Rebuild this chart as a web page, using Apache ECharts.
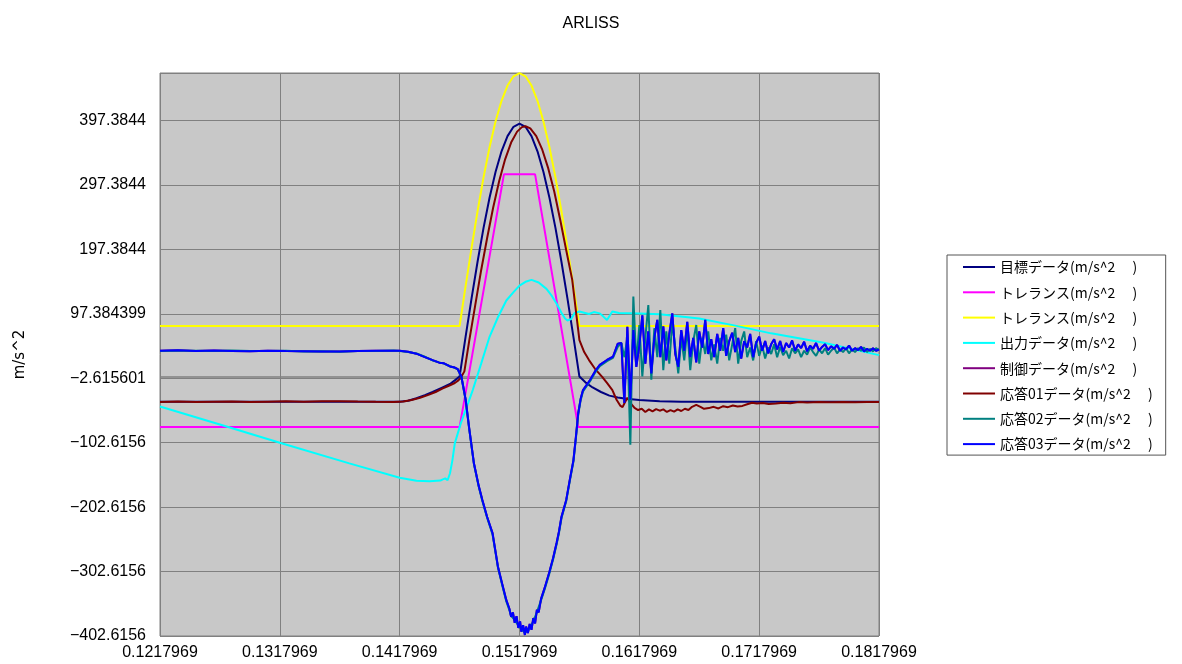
<!DOCTYPE html>
<html>
<head>
<meta charset="utf-8">
<title>ARLISS</title>
<script src="https://cdn.jsdelivr.net/npm/echarts@6/dist/echarts.min.js"></script>
<style>
  html, body { margin: 0; padding: 0; background: #ffffff; }
  #chart { width: 1182px; height: 664px; }
</style>
</head>
<body>
<div id="chart"></div>
<script>
// Time axis is elapsed milliseconds from 0.1217969 s; tick labels carry the absolute seconds.
const xTickLabels = ['0.1217969', '0.1317969', '0.1417969', '0.1517969', '0.1617969', '0.1717969', '0.1817969'];
const yTickLabels = ['−402.6156', '−302.6156', '−202.6156', '−102.6156', '−2.615601', '97.384399', '197.3844', '297.3844', '397.3844'];

const seriesNames = [
  '目標データ(m/s^2\u3000 )',
  'トレランス(m/s^2\u3000 )',
  'トレランス(m/s^2\u3000 ) ',
  '出力データ(m/s^2\u3000 )',
  '制御データ(m/s^2\u3000 )',
  '応答01データ(m/s^2\u3000 )',
  '応答02データ(m/s^2\u3000 )',
  '応答03データ(m/s^2\u3000 )'
];

// [ms, m/s^2]
const target = [
  [0, -39.2], [20, -39.2], [20.7, -37.5], [21.4, -33.6], [22.1, -29], [22.75, -24], [23.5, -17.5], [24.2, -11.6], [24.6, -6], [25, 0],
  [25.5, 61.4], [26, 121.2], [26.5, 178.1], [27, 230.6], [27.5, 277.4], [28, 317.4], [28.5, 349.5], [29, 373.1], [29.5, 387.5], [30, 392.3],
  [30.5, 387.5], [31, 373.1], [31.5, 349.5], [32, 317.4], [32.5, 277.4], [33, 230.6], [33.5, 178.1], [34, 121.2], [34.5, 61.4], [35, 0],
  [35.5, -9], [36.1, -17], [36.8, -24], [37.5, -29.6], [38.2, -32.5], [38.9, -34.5], [40, -36.5], [41.7, -38.2], [43.5, -39], [45, -39.2], [60, -39.2]
];

const toleranceLow = [
  [0, -78.4], [25, -78.4], [28.7, 313.8], [31.3, 313.8], [34.9, -78.4], [60, -78.4]
];

const toleranceHigh = [
  [0, 78.4], [25, 78.4], [25.5, 139.8], [26, 199.6], [26.5, 256.5], [27, 309], [27.5, 355.8], [28, 395.8], [28.5, 427.9], [29, 451.5],
  [29.5, 465.9], [30, 470.7], [30.5, 465.9], [31, 451.5], [31.5, 427.9], [32, 395.8], [32.5, 355.8], [33, 309], [33.5, 256.5], [34, 199.6],
  [34.5, 139.8], [35, 78.4], [60, 78.4]
];

const output = [
  [0, -46.5], [5, -74.5], [10, -102.8], [15.8, -134.7], [20, -157], [21.4, -161.7], [22.5, -162.5], [23.4, -161.5], [23.6, -159.5], [23.8, -158],
  [24, -161], [24.2, -150], [24.4, -130], [24.6, -103.7], [25.1, -72.7], [25.8, -36.5], [26.1, -21], [26.8, 20], [27.5, 61.7], [28.2, 92],
  [28.9, 118], [29.5, 131], [30, 141], [30.5, 147], [31, 150], [31.6, 146], [32.25, 136], [32.7, 125], [33.1, 113], [33.5, 99],
  [33.8, 90], [34, 87], [34.3, 89], [34.6, 98.5], [35, 101], [35.4, 99], [35.8, 97], [36.2, 100], [36.7, 98], [37, 93],
  [37.3, 87.6], [37.55, 95], [37.75, 101], [38.3, 98.5], [40, 98], [41.7, 96.6], [45, 90], [48, 79], [51, 67], [55.4, 52.4], [60, 33.2]
];

const response01 = [
  [0, -39.5], [1.5, -38.8], [3, -39.6], [4.5, -39], [6, -38.6], [7.5, -39.4], [9, -39], [10.5, -38.5], [12, -39.2], [13.5, -38.4],
  [15, -38.2], [16.5, -38.8], [18, -39.3], [19.5, -39.5], [20.3, -38.8], [21, -36.5], [21.7, -33], [22.4, -28.5], [23, -24], [23.6, -18.5],
  [24.2, -13.5], [24.6, -10], [24.9, -6], [25.1, -2], [25.4, 8], [25.8, 55], [26.3, 110], [26.8, 165], [27.3, 215], [27.8, 262],
  [28.3, 303], [28.8, 337], [29.3, 363], [29.8, 380], [30.2, 387], [30.5, 388.4], [30.9, 385], [31.4, 373], [31.9, 352], [32.4, 323],
  [32.9, 287], [33.4, 243], [33.9, 196], [34.4, 150], [34.7, 103], [35, 56.5], [35.4, 38], [35.8, 25.5], [36.3, 12], [36.9, -0.5],
  [37.3, -10], [37.75, -21], [38.1, -36], [38.4, -45], [38.6, -47.4], [38.8, -40], [39, -33], [39.3, -42], [39.6, -48.7], [39.9, -52],
  [40.2, -50], [40.5, -55], [40.8, -51], [41.1, -54], [41.4, -50.5], [41.7, -53], [42, -51], [42.3, -55], [42.6, -52], [42.9, -54.5],
  [43.2, -51], [43.5, -53.5], [43.8, -50], [44.1, -52], [44.4, -47], [44.75, -44], [45.1, -47], [45.4, -50], [45.8, -49], [46.2, -47],
  [46.6, -49.5], [47, -46], [47.4, -47.5], [47.8, -45], [48.2, -46.5], [48.6, -45.6], [49, -43], [49.4, -40.7], [49.8, -42], [50.3, -41],
  [50.8, -42.5], [51.4, -41.7], [52, -40.5], [52.6, -41.3], [53.3, -39.7], [54, -40.3], [55, -39.6], [56, -40], [57, -39.5], [58, -39.8],
  [59, -39.4], [60, -39.6]
];

// Responses 02 / 03 up to the end of the pulse, then the ringing on a 0.25 ms grid.
const response02Lead = [
  [0, 39.5], [1.5, 40.2], [3, 40], [4.5, 39.8], [6, 40.3], [7.5, 39.5], [9, 39.8], [10.5, 40], [12, 39], [13.5, 39.2],
  [15, 38.6], [16.5, 39.8], [18, 39.8], [19.5, 40.3], [20, 39.6], [20.7, 38.2], [21.4, 35.8], [22, 31.5], [22.75, 25], [23.3, 22],
  [23.7, 20], [24.2, 16], [24.6, 13.5], [24.85, 11], [25.15, -1], [25.5, -36], [25.8, -81], [26.2, -136], [26.6, -171], [26.9, -193],
  [27.3, -219], [27.75, -245], [28.2, -296], [28.6, -327], [28.9, -349], [29.15, -362], [29.3, -371], [29.45, -370], [29.6, -378], [29.75, -377],
  [29.9, -386], [30.05, -388], [30.15, -392], [30.3, -392], [30.45, -397], [30.55, -394], [30.7, -395], [30.85, -390], [31, -388], [31.15, -380],
  [31.3, -378], [31.45, -366], [31.6, -363], [31.8, -347], [32.1, -330], [32.5, -305], [32.8, -284], [33.1, -260], [33.3, -242], [33.5, -220],
  [33.9, -193], [34.2, -162], [34.5, -132], [34.7, -97], [34.9, -59], [35.1, -37], [35.3, -23], [35.9, -7], [36.3, 6], [36.7, 16],
  [37.3, 24], [37.8, 29], [38.2, 46]
];

const response03Lead = [
  [0, 40], [1.5, 40.8], [3, 39.6], [4.5, 40.4], [6, 39.8], [7.5, 39.2], [9, 40.2], [10.5, 39.5], [12, 39.4], [13.5, 38.8],
  [15, 39], [16.5, 39.6], [18, 40.2], [19.5, 40], [20, 39.9], [20.7, 38.5], [21.4, 35.5], [22, 31], [22.75, 25.4], [23.3, 21.5],
  [23.7, 20.5], [24.2, 15.6], [24.6, 14], [24.85, 11.4], [25.15, 0], [25.5, -35], [25.8, -80], [26.2, -135], [26.6, -170], [26.9, -191.5],
  [27.3, -218], [27.75, -243], [28.2, -295], [28.6, -325], [28.9, -347], [29.15, -360], [29.3, -373], [29.45, -366], [29.6, -382], [29.75, -372],
  [29.9, -390], [30.05, -380], [30.15, -396], [30.3, -386], [30.45, -401], [30.55, -388], [30.7, -398], [30.85, -384], [31, -393], [31.15, -375],
  [31.3, -383], [31.45, -362], [31.6, -366], [31.8, -345], [32.1, -328], [32.5, -303], [32.8, -282], [33.1, -258], [33.3, -240], [33.5, -218],
  [33.9, -191.5], [34.2, -160], [34.5, -130], [34.7, -95], [34.9, -57], [35.1, -35], [35.3, -21], [35.9, -5], [36.3, 8], [36.7, 18],
  [37.3, 25.7], [37.8, 30.7], [38.2, 51]
];

const ringStartMs = 38.5;
const ringStepMs = 0.25;

const response02Ring = [
  52, 30, 60, -106, 124, 20, 80, 0, 60, 111, -5, 75, 30, 103, 10, 70, 20, 85, 45, 5,
  60, 25, 75, 10, 55, 80, 20, 60, 35, 70, 25, 50, 20, 60, 40, 65, 25, 50, 75, 20,
  55, 70, 30, 45, 25, 55, 32, 48, 28, 45, 35, 50, 30, 46, 33, 40, 28, 44, 36, 42,
  30, 40, 34, 45, 38, 32, 42, 36, 44, 34, 40, 45, 36, 42, 38, 44, 36, 42, 38, 44,
  40, 45, 38, 43, 39, 44, 41
];

const response03Ring = [
  52, -41, 77, -36, 72, 15, 48, 95, 20, 70, 5, 60, 88, 30, 78, 25, 66, 98, 35, 15,
  72, 40, 85, 30, 60, 22, 70, 45, 88, 35, 58, 30, 66, 40, 75, 32, 55, 68, 38, 60,
  28, 55, 45, 66, 30, 52, 62, 40, 55, 36, 50, 58, 42, 55, 38, 52, 45, 56, 40, 50,
  44, 54, 39, 48, 43, 52, 40, 46, 50, 41, 47, 43, 49, 40, 45, 42, 48, 40, 44, 41,
  46, 39, 43, 40, 44, 40, 42
];

function withRing(lead, ring) {
  return lead.concat(ring.map((v, i) => [ringStartMs + i * ringStepMs, v]));
}

const response02 = withRing(response02Lead, response02Ring);
const response03 = withRing(response03Lead, response03Ring);
const control = response03;

const seriesColors = ['#000080', '#FF00FF', '#FFFF00', '#00FFFF', '#800080', '#800000', '#008080', '#0000FF'];
const seriesData = [target, toleranceLow, toleranceHigh, output, control, response01, response02, response03];

const numFont = '"Liberation Sans", Arial, sans-serif';
const jpFont = '"Noto Sans CJK JP", "Noto Sans", sans-serif';

const chart = echarts.init(document.getElementById('chart'), null, { renderer: 'canvas' });

const series = seriesNames.map((name, i) => {
  const s = {
    name: name,
    type: 'line',
    data: seriesData[i],
    symbol: 'none',
    showSymbol: false,
    clip: true,
    animation: false,
    lineStyle: { color: seriesColors[i], width: 2 },
    itemStyle: { color: seriesColors[i] },
    z: 3 + i
  };
  if (i === 0) {
    // zero line of the value axis
    s.markLine = {
      silent: true,
      symbol: 'none',
      label: { show: false },
      lineStyle: { color: '#808080', width: 1.5, type: 'solid' },
      data: [{ yAxis: 0 }],
      z: 1
    };
  }
  return s;
});

const option = {
  backgroundColor: '#ffffff',
  animation: false,
  title: {
    text: 'ARLISS',
    left: 'center',
    top: 11,
    textStyle: { fontFamily: numFont, fontSize: 16, fontWeight: 'normal', color: '#000' }
  },
  legend: {
    orient: 'vertical',
    left: 947,
    top: 255,
    data: seriesNames.map((n, i) => ({ name: n, icon: 'rect', itemStyle: { color: seriesColors[i] } })),
    itemWidth: 32,
    itemHeight: 2,
    itemGap: 11.3,
    padding: [5, 13, 4, 16],
    backgroundColor: '#ffffff',
    borderColor: '#555555',
    borderWidth: 1,
    borderRadius: 0,
    selectedMode: false,
    textStyle: { fontFamily: jpFont, fontSize: 14, color: '#000', lineHeight: 14 }
  },
  grid: {
    left: 160,
    top: 73,
    width: 719,
    height: 563,
    show: true,
    backgroundColor: '#c8c8c8',
    borderColor: '#808080',
    borderWidth: 1
  },
  xAxis: {
    type: 'value',
    min: 0,
    max: 60,
    interval: 10,
    axisLine: { show: false, onZero: false },
    axisTick: { show: false },
    splitLine: { show: true, lineStyle: { color: '#808080', width: 1 } },
    axisLabel: {
      margin: 9,
      fontFamily: numFont,
      fontSize: 16,
      color: '#000',
      formatter: (v) => xTickLabels[Math.round(v / 10)] || ''
    }
  },
  yAxis: {
    type: 'value',
    min: -402.6156,
    max: 471,
    interval: 100,
    name: 'm/s^2',
    nameLocation: 'middle',
    nameGap: 132,
    nameRotate: 90,
    nameTextStyle: { fontFamily: '"DejaVu Sans", sans-serif', fontSize: 15, color: '#000' },
    axisLine: { show: false },
    axisTick: { show: false },
    splitLine: { show: true, lineStyle: { color: '#808080', width: 1 } },
    axisLabel: {
      margin: 14,
      fontFamily: numFont,
      fontSize: 16,
      color: '#000',
      showMaxLabel: false,
      formatter: (v) => {
        for (const lab of yTickLabels) {
          if (Math.abs(parseFloat(lab.replace('−', '-')) - v) < 0.5) return lab;
        }
        return '';
      }
    }
  },
  series: series
};

chart.setOption(option);
</script>
</body>
</html>
